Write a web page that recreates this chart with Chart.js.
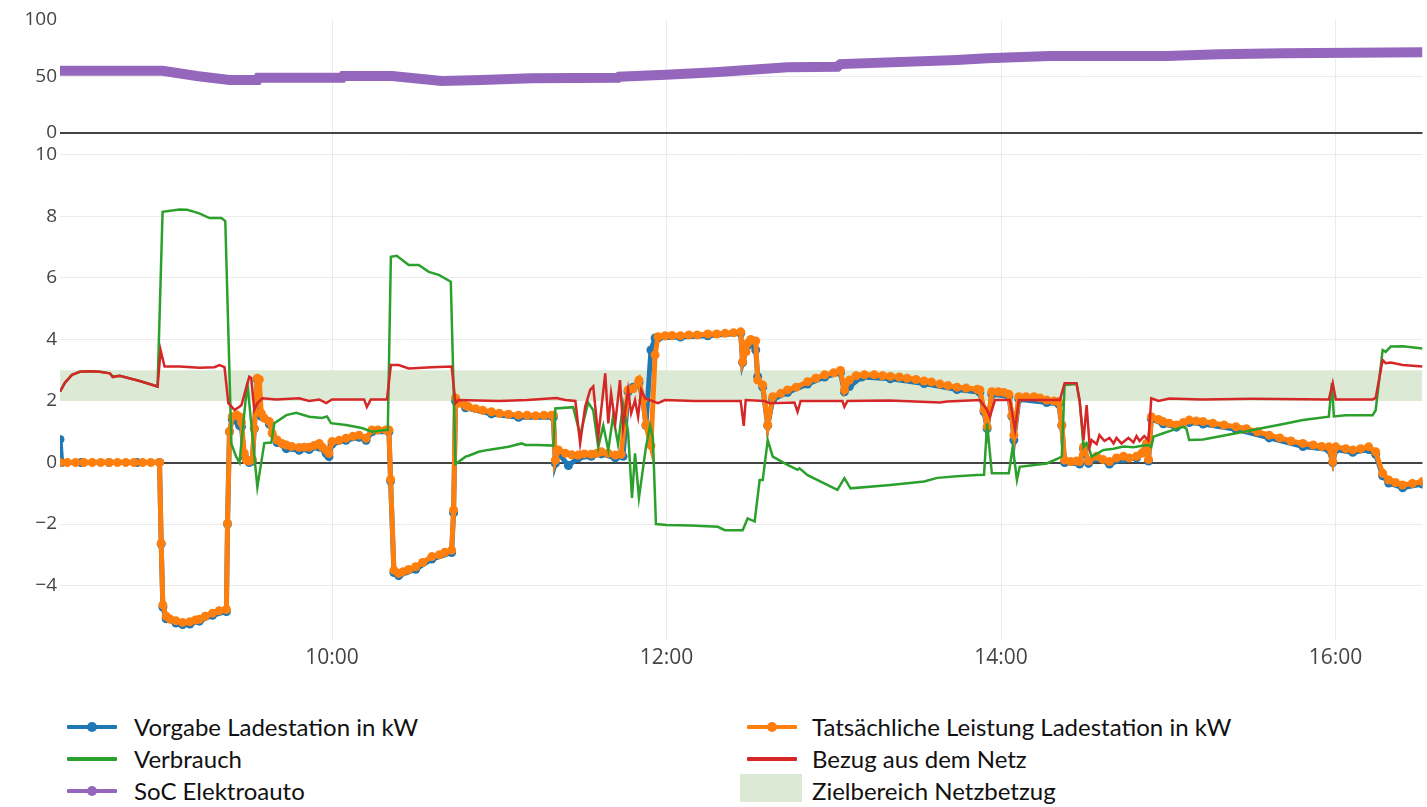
<!DOCTYPE html>
<html>
<head>
<meta charset="utf-8">
<script src="https://cdn.jsdelivr.net/npm/chart.js@4.4.0/dist/chart.umd.min.js"></script>
<style>
html,body{margin:0;padding:0;background:#fff;width:1427px;height:807px;overflow:hidden;}
#c{position:absolute;left:0;top:0;}
.item{position:absolute;height:24px;white-space:nowrap;}
.item .txt{position:absolute;top:-1px;font-family:Lato,"Open Sans",sans-serif;font-size:24px;line-height:26px;color:#111;}
.item .ln{position:absolute;top:10px;height:4px;width:50px;border-radius:1px;}
.item .dot{position:absolute;top:7px;width:10px;height:10px;border-radius:50%;}
.item .box{position:absolute;}
</style>
</head>
<body>
<canvas id="c" width="1427" height="700"></canvas>
<div id="legend"></div>
<script>
// ---- axis ticks (minutes after midnight) ----
const xMin = 502.4, xMax = 991.2;
const xTickValues = [600, 720, 840, 960];
const xTickLabels = ['10:00', '12:00', '14:00', '16:00'];
const socTicks = [0, 50, 100];
const kwTicks = [-4, -2, 0, 2, 4, 6, 8, 10];
const zielbereich = [2, 3];

// ---- SoC Elektroauto [min, %] ----
const socData = [[502.4,55],[539.2,55],[551.4,50.4],[563.2,47],[573.2,47],[573.6,48.9],[603.6,48.9],[604,50.4],
[621.5,50.4],[639.3,46.0],[653.6,46.9],[671.5,48.4],[702.6,48.9],[703,49.8],[719.8,51.5],[737.3,53.8],[763.4,58.1],
[781.3,58.7],[782.4,61],[824.2,64.6],[835,66.1],[857.5,68.1],[899.3,68.2],[918.3,69.6],[941.2,70.5],[991.2,71.4]];

// ---- Tatsächliche Leistung Ladestation [min, kW] ----
const istData = [[502.4,0],[505,0],[508,0],[511,0],[514,0],[517,0],[520,0],[523,0],[526,0],[529,0],[532,0],[535,0],[538.1,0],
[538.7,-2.63],[539.3,-4.63],[540.5,-5.0],[542,-5.1],[544,-5.15],[546.4,-5.2],[549,-5.18],[551,-5.12],[552.4,-5.1],[554.5,-5.0],
[557.1,-4.9],[559.5,-4.82],[562.1,-4.78],[562.5,-1.98],[563.2,1.0],[564.2,1.49],[565.7,1.55],[566.8,1.49],[567.5,1.3],[568.5,0.3],
[569.2,0.08],[570.3,0.05],[571.4,0.1],[572.1,1.11],[573.2,2.74],[573.9,2.7],[574.6,1.6],[575.7,1.44],[577.5,1.33],[578.5,0.95],
[580.3,0.73],[582,0.62],[583.6,0.57],[585.5,0.52],[588.2,0.49],[590,0.5],[591.8,0.5],[593.5,0.55],[595.4,0.62],[596.5,0.5],
[597.9,0.41],[598.9,0.3],[600,0.68],[602.5,0.72],[605,0.79],[607.5,0.85],[609.7,0.89],[612.2,0.79],[614.3,1.06],[616.5,1.06],
[619.3,1.06],[620.4,1.06],[621.0,-0.55],[622.2,-3.5],[623.9,-3.6],[625.5,-3.55],[627.5,-3.48],[630,-3.39],[632.5,-3.25],
[635.8,-3.06],[638.5,-3.0],[640.5,-2.92],[642.9,-2.85],[643.6,-1.54],[644.3,2.1],[645.4,1.93],[647.9,1.85],[649,1.81],
[651.5,1.75],[654,1.7],[657.2,1.65],[660,1.6],[663.3,1.57],[666.9,1.54],[670,1.54],[673,1.52],[676,1.54],[678.7,1.54],
[679.4,1.54],[680.1,0.08],[681.2,0.41],[683.7,0.3],[686,0.25],[688.3,0.24],[690.5,0.28],[693,0.27],[695,0.3],[696.6,0.35],
[699,0.3],[701.6,0.24],[703.7,0.27],[706.2,2.36],[708,2.4],[710.1,2.68],[711.6,2.03],[712.6,1.22],[714.4,0.55],[715.9,3.5],
[716.9,4.09],[719.5,4.12],[722,4.13],[725,4.12],[728,4.15],[731,4.15],[734.8,4.18],[738,4.18],[741,4.2],[744,4.22],[746.6,4.25],
[747.3,3.28],[748.5,3.6],[749.1,3.88],[750.2,4.0],[752,3.95],[752.7,2.68],[754.5,2.52],[756.3,1.22],[758.1,2.14],[761,2.25],
[763.4,2.36],[766.5,2.45],[770.6,2.63],[773.5,2.74],[776.7,2.85],[780,2.92],[782.4,2.99],[783.8,2.36],[785.6,2.68],[788,2.82],
[791,2.85],[794.5,2.85],[797.5,2.82],[800.3,2.8],[803.5,2.78],[806.3,2.74],[809.5,2.7],[812.4,2.65],[815,2.62],[818.1,2.55],
[821,2.5],[824.2,2.45],[827.5,2.42],[831.4,2.38],[832.4,2.36],[833.9,1.71],[835,1.16],[836.7,2.3],[839,2.3],[841,2.28],
[842.8,2.22],[843.9,1.54],[844.6,0.89],[846.4,2.14],[849,2.14],[851.8,2.14],[854,2.1],[856.4,2.03],[859,2.0],[860.7,1.98],
[861.8,1.22],[862.8,0.08],[865,0.03],[867.1,0.05],[868.2,0.03],[869.6,0.51],[871.4,0.05],[874.3,0.2],[876.5,0.1],[878.9,0.03],
[881.4,0.15],[883.9,0.2],[886,0.15],[888.6,0.2],[890.5,0.3],[892.2,0.62],[892.9,0.1],[893.9,1.49],[896.5,1.4],[898.2,1.33],
[900.4,1.28],[902.9,1.22],[905.4,1.3],[907.5,1.38],[910,1.35],[912.5,1.33],[916,1.28],[920,1.22],[924.3,1.16],[928,1.1],
[932,1.0],[936.2,0.89],[940,0.8],[944,0.7],[948.3,0.62],[952,0.57],[955,0.52],[957.6,0.51],[959,0.03],[960.1,0.51],[963.7,0.45],
[966.2,0.41],[969,0.45],[971.9,0.51],[974.4,0.35],[976.9,-0.35],[979.1,-0.57],[981.5,-0.65],[984.1,-0.73],[987.6,-0.68],[991.2,-0.62]];

// ---- Vorgabe Ladestation [min, kW] ----
const vorgabeData = [[502.4,0.75],[503,0],[510,0],[520,0],[530,0],[538.1,0],[538.7,-2.65],[539.3,-4.7],[540.5,-5.08],[544,-5.22],
[546.4,-5.27],[549,-5.25],[552.4,-5.16],[557.1,-4.97],[562.1,-4.85],[562.5,-2.0],[563.2,1.0],[564.2,1.4],[566.8,1.2],[567.5,1.16],
[568.5,0.2],[570.3,0.0],[571.4,0.05],[572.1,1.1],[573.2,2.7],[574.6,1.5],[577.5,1.25],[580.3,0.65],[583.6,0.45],[588.2,0.4],
[591.8,0.42],[595.4,0.5],[597.9,0.3],[598.9,0.19],[600,0.6],[605,0.72],[609.7,0.82],[612.2,0.72],[614.3,1.0],[620.4,1.0],
[621,-0.6],[622.2,-3.58],[623.9,-3.68],[630,-3.47],[635.8,-3.14],[642.9,-2.93],[643.6,-1.64],[644.3,2.0],[647.9,1.78],
[657.2,1.58],[666.9,1.47],[679.4,1.47],[680.1,-0.03],[681.2,0.3],[684.8,-0.1],[688.3,0.15],[693,0.2],[696.6,0.28],[701.6,0.15],
[704.4,0.2],[706.2,2.3],[708,2.45],[710.1,2.6],[711.6,2.0],[712.6,1.2],[714.4,3.66],[715.9,4.05],[716.9,4.05],[725,4.08],
[734.8,4.12],[746.6,4.2],[747.3,3.25],[749.1,3.8],[750.2,3.9],[752,3.66],[752.7,2.79],[754.5,2.45],[756.3,1.2],[758.1,2.05],
[763.4,2.28],[770.6,2.55],[776.7,2.78],[782.4,2.92],[783.8,2.3],[785.6,2.47],[790,2.78],[800.3,2.72],[812.4,2.57],[824.2,2.37],
[832.4,2.28],[833.9,1.65],[835,1.1],[836.7,2.22],[842.8,2.15],[843.9,1.5],[844.6,0.73],[846.4,2.06],[856.4,1.95],[860.7,1.9],
[861.8,1.2],[862.8,0.0],[868.2,-0.05],[869.6,0.45],[871.4,-0.03],[874.3,0.15],[878.9,-0.05],[883.9,0.12],[888.6,0.15],
[892.2,0.55],[892.9,0.05],[893.9,1.42],[898.2,1.26],[902.9,1.15],[907.5,1.3],[912.5,1.25],[924.3,1.08],[936.2,0.8],[948.3,0.52],
[957.6,0.42],[959,0.0],[960.1,0.42],[966.2,0.33],[971.9,0.42],[974.4,0.27],[976.9,-0.43],[979.1,-0.67],[984.1,-0.82],[991.2,-0.7]];

// ---- Verbrauch [min, kW] ----
const verbrauchData = [[502.4,2.3],[504.2,2.6],[506.7,2.85],[509.5,2.95],[513.1,2.97],[516.7,2.95],[520.3,2.9],[521.3,2.8],
[523.8,2.82],[531,2.65],[537.4,2.47],[539.2,8.15],[545.3,8.23],[548,8.22],[550.6,8.15],[552.4,8.1],[556,7.95],[560.3,7.95],
[561.7,7.85],[563.9,0.6],[565.6,0.19],[566.8,0.0],[569.6,2.6],[573.2,-0.8],[575.7,0.63],[578.2,0.65],[579.3,1.28],[583.6,1.54],
[587.1,1.62],[591.8,1.49],[596.4,1.45],[598.2,1.5],[599.6,1.28],[605,1.22],[610.7,1.12],[614.3,1.0],[619.3,1.06],[620,1.06],
[621.1,6.69],[623.2,6.72],[627.5,6.42],[631.1,6.42],[634.7,6.2],[638.3,6.1],[642.6,5.88],[644.3,-0.05],[647.9,0.19],[649,0.22],
[652.6,0.35],[656,0.41],[663.3,0.51],[668,0.62],[669.4,0.57],[674,0.57],[679.4,0.55],[680.1,1.76],[686.5,1.8],[689,0.9],
[691.9,1.95],[693.7,1.7],[695.5,0.5],[697.3,1.2],[699.1,0.4],[700.8,1.5],[702.6,0.6],[704.4,1.9],[706.2,1.0],[707.6,-1.15],
[708.7,0.3],[710.1,-1.15],[712.6,0.5],[714.1,1.2],[715.1,0.8],[716.2,-2.0],[720,-2.03],[728.7,-2.05],[738.4,-2.09],[740.9,-2.2],
[747.3,-2.2],[749.1,-1.82],[751.6,-1.92],[753.4,-0.57],[754.5,-0.57],[756.3,0.73],[758.1,0.19],[763.4,-0.08],[767,-0.24],
[767.7,-0.19],[770.6,-0.41],[781.3,-0.89],[783.8,-0.51],[786,-0.84],[800.3,-0.73],[812.4,-0.62],[817.1,-0.5],[824.2,-0.45],
[831.4,-0.41],[833.9,-0.4],[835,1.27],[836.7,-0.35],[842.8,-0.35],[844.2,0.51],[845.7,-0.57],[846.7,-0.14],[856.4,-0.03],
[860.7,0.14],[861.8,0.2],[862.8,2.52],[867.1,2.55],[868.2,2.0],[869.6,0.5],[870.7,0.63],[871.4,0.5],[872.5,0.19],[876.8,0.41],
[880.4,0.45],[883.9,0.52],[887.5,0.5],[891.1,0.55],[892.9,0.57],[893.9,0.5],[894.7,0.84],[898.2,0.95],[901.8,1.06],[905.4,1.16],
[906.5,1.1],[907.5,0.73],[912.5,0.75],[924.3,0.95],[936.2,1.16],[942.2,1.27],[948.3,1.38],[957.6,1.49],[958.7,2.58],[959.4,1.5],
[963.7,1.54],[973.3,1.54],[974.4,1.7],[976.9,3.66],[978,3.6],[979.8,3.77],[984.1,3.78],[991.2,3.71]];

// ---- Bezug aus dem Netz [min, kW] ----
const netzData = [[502.4,2.3],[504.2,2.6],[506.7,2.85],[509.5,2.95],[513.1,2.97],[516.7,2.95],[520.3,2.9],[521.3,2.78],
[523.8,2.82],[531,2.65],[537.4,2.47],[538.5,3.65],[539.9,3.12],[545.3,3.12],[552.4,3.08],[557.8,3.1],[559.6,3.17],[561.4,3.1],
[562.8,1.93],[565,1.71],[566.8,1.81],[567.5,1.87],[570.3,2.79],[571,2.75],[572.1,1.71],[573.2,1.93],[575,2.09],[580,2.05],
[588.2,2.09],[591.8,2.0],[595.4,2.05],[597.9,1.93],[600,2.05],[611.5,2.05],[612.5,1.81],[613.9,2.05],[619.7,2.05],[621.1,3.17],
[623.9,3.17],[627.5,3.06],[635.8,3.1],[642.9,3.12],[644.3,1.93],[645.4,2.03],[660,2.0],[670,2.03],[680.5,2.1],[683.7,2.03],
[687.3,2.0],[689,0.62],[690.8,1.81],[692.6,2.36],[693.7,2.47],[695.5,0.84],[698,2.9],[699.1,1.27],[700.1,2.25],[701.6,1.27],
[703.3,2.68],[704.4,1.16],[706.2,2.36],[707.3,1.6],[708.7,2.03],[709.8,1.49],[710.9,2.36],[712.3,2.09],[714.1,2.03],[716.9,1.93],
[719.4,2.03],[730,2.0],[746.6,2.0],[747.7,1.19],[748.4,2.03],[755.2,2.0],[757,1.93],[765.9,1.95],[767,1.65],[768.1,2.0],
[783.1,2.0],[783.8,1.81],[784.9,2.0],[800,2.02],[818.1,1.95],[820.6,1.98],[832.4,2.03],[835,1.71],[836,1.49],[837.8,2.03],
[843.2,2.03],[845,1.06],[846.4,2.03],[861.1,2.03],[862.8,2.58],[867.1,2.58],[868.2,2.0],[869.6,0.73],[870.7,1.87],[871.8,0.51],
[872.5,0.73],[874.3,0.6],[875.3,0.89],[877.1,0.7],[878.9,0.8],[880.4,0.62],[881.4,0.8],[883.2,0.62],[885.7,0.8],[887.5,0.65],
[888.6,0.86],[889.7,0.7],[891.4,0.86],[892.9,0.72],[893.9,2.09],[896.5,2.0],[900.4,2.08],[912,2.05],[930,2.07],[957.6,2.05],
[959,2.58],[960.1,2.05],[973.3,2.05],[974.4,2.1],[976.9,3.33],[978,3.23],[979.8,3.25],[984.1,3.17],[991.2,3.12]];

const COLORS = {vorgabe:'#1f77b4', ist:'#ff7f0e', verbrauch:'#2ca02c', netz:'#d62728', soc:'#9467bd', ziel:'#dcead5'};
const toXY = arr => arr.map(p => ({x: p[0], y: p[1]}));
const fmt = v => (v < 0 ? '\u2212' + Math.abs(v) : String(v));
const tickFont = {family: '"Open Sans", sans-serif', size: 19};

const gridFor = (hideVal) => ({
  drawTicks: false,
  color: c => c.tick.value === 0 ? '#444' : (c.tick.value === hideVal ? 'rgba(0,0,0,0)' : '#ebebeb'),
  lineWidth: c => c.tick.value === 0 ? 2 : 1
});

new Chart(document.getElementById('c'), {
  type: 'line',
  data: {
    datasets: [
      {label:'Bezug aus dem Netz', data: toXY(netzData), yAxisID:'yKw', borderColor: COLORS.netz, borderWidth: 2.5, pointRadius: 0, order: 1},
      {label:'Verbrauch', data: toXY(verbrauchData), yAxisID:'yKw', borderColor: COLORS.verbrauch, borderWidth: 2.5, pointRadius: 0, order: 2},
      {label:'Tatsächliche Leistung Ladestation in kW', data: toXY(istData), yAxisID:'yKw', borderColor: COLORS.ist, backgroundColor: COLORS.ist,
        borderWidth: 5, pointRadius: 4.5, pointBorderWidth: 0, pointBackgroundColor: COLORS.ist, order: 3},
      {label:'Vorgabe Ladestation in kW', data: toXY(vorgabeData), yAxisID:'yKw', borderColor: COLORS.vorgabe, backgroundColor: COLORS.vorgabe,
        borderWidth: 5, pointRadius: 4.5, pointBorderWidth: 0, pointBackgroundColor: COLORS.vorgabe, order: 4},
      {label:'SoC Elektroauto', data: toXY(socData), yAxisID:'ySoc', borderColor: COLORS.soc, borderWidth: 10, pointRadius: 0, borderCapStyle:'butt', order: 5},
      {label:'Zielbereich Netzbetzug', data: [{x: xMin, y: zielbereich[1]}, {x: xMax, y: zielbereich[1]}], yAxisID:'yKw',
        borderWidth: 0, borderColor: 'rgba(0,0,0,0)', pointRadius: 0, fill: {value: zielbereich[0]}, backgroundColor: COLORS.ziel, order: 10}
    ]
  },
  options: {
    responsive: false,
    animation: false,
    events: [],
    layout: {padding: {top: 20, left: 0, right: 0, bottom: 0}},
    plugins: {legend: {display: false}, tooltip: {enabled: false}},
    scales: {
      x: {
        type: 'linear', position: 'bottom', min: xMin, max: xMax,
        border: {display: false},
        grid: {drawTicks: false, color: '#ebebeb', lineWidth: 1},
        afterBuildTicks: a => { a.ticks = xTickValues.map(v => ({value: v})); },
        afterFit: a => { a.height = 60; },
        ticks: {padding: 5, color: '#444', font: {family: '"Open Sans", sans-serif', size: 21},
          autoSkip: false, maxRotation: 0,
          callback: v => xTickLabels[xTickValues.indexOf(v)]}
      },
      yKw: {
        type: 'linear', position: 'left', stack: 'v', stackWeight: 507, weight: 1,
        min: -5.772, max: 10.715,
        border: {display: false},
        grid: gridFor(null),
        afterBuildTicks: a => { a.ticks = kwTicks.map(v => ({value: v})); },
        afterFit: a => { a.width = 60; },
        ticks: {padding: 3, color: '#444', font: tickFont, callback: v => fmt(v)}
      },
      ySoc: {
        type: 'linear', position: 'left', stack: 'v', stackWeight: 113, weight: 2,
        min: 0, max: 100,
        border: {display: false},
        grid: gridFor(100),
        afterBuildTicks: a => { a.ticks = socTicks.map(v => ({value: v})); },
        afterFit: a => { a.width = 60; },
        ticks: {padding: 3, color: '#444', font: tickFont, callback: v => fmt(v)}
      }
    }
  }
});

// ---- HTML legend ----
const legendItems = [
  {label:'Vorgabe Ladestation in kW', color: COLORS.vorgabe, kind:'marker', col:0, row:0},
  {label:'Tatsächliche Leistung Ladestation in kW', color: COLORS.ist, kind:'marker', col:1, row:0},
  {label:'Verbrauch', color: COLORS.verbrauch, kind:'line', col:0, row:1},
  {label:'Bezug aus dem Netz', color: COLORS.netz, kind:'line', col:1, row:1},
  {label:'SoC Elektroauto', color: COLORS.soc, kind:'marker', col:0, row:2},
  {label:'Zielbereich Netzbetzug', color: COLORS.ziel, kind:'box', col:1, row:2}
];
const colMarkerX = [67, 747], colTextX = [134, 812], rowCenter = [727, 759, 791];
const lg = document.getElementById('legend');
legendItems.forEach(it => {
  const d = document.createElement('div');
  d.className = 'item';
  d.style.left = '0px';
  d.style.top = (rowCenter[it.row] - 12) + 'px';
  let html = '';
  const mx = colMarkerX[it.col];
  if (it.kind === 'box') {
    html += `<div class="box" style="left:${mx - 7}px;top:-5px;width:62px;height:28px;background:${it.color}"></div>`;
  } else {
    html += `<div class="ln" style="left:${mx}px;background:${it.color}"></div>`;
    if (it.kind === 'marker') html += `<div class="dot" style="left:${mx + 20}px;background:${it.color}"></div>`;
  }
  html += `<div class="txt" style="left:${colTextX[it.col]}px">${it.label}</div>`;
  d.innerHTML = html;
  lg.appendChild(d);
});
</script>
</body>
</html>
